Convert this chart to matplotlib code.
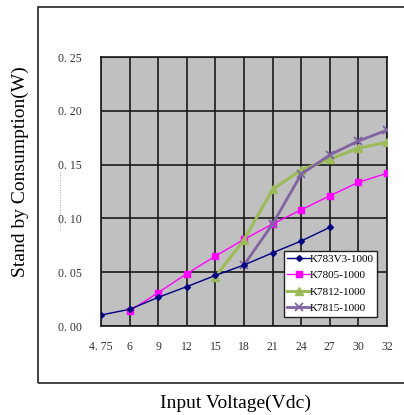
import numpy as np
import matplotlib.pyplot as plt
from matplotlib.patches import Rectangle

# categories on the x axis (evenly spaced)
voltages = ["4. 75", "6", "9", "12", "15", "18", "21", "24", "27", "30", "32"]

k783v3 = [0.0102, 0.0155, 0.0266, 0.0366, 0.047, 0.0567, 0.068, 0.079, 0.0917]
k7805 = [0.014, 0.031, 0.0486, 0.065, 0.0805, 0.0948, 0.108, 0.121, 0.1335, 0.142]
k7812 = [0.0458, 0.080, 0.127, 0.145, 0.155, 0.1654, 0.1707]
k7815 = [0.0567, 0.0948, 0.141, 0.159, 0.172, 0.182]

y_ticks = [0.0, 0.05, 0.10, 0.15, 0.20, 0.25]
y_labels = ["0. 00", "0. 05", "0. 10", "0. 15", "0. 20", "0. 25"]

W, H = 404, 415
fig = plt.figure(figsize=(W / 100, H / 100), dpi=100)
plt.rcParams["font.family"] = ["Liberation Serif", "DejaVu Serif"]

# outer chart frame (right edge runs off the picture)
fig.patches.append(Rectangle((38 / W, 1 - 383 / H), 1.0, (383 - 7) / H,
                             transform=fig.transFigure, fill=False,
                             edgecolor="#222222", linewidth=1.2))

ax = fig.add_axes([101 / W, 1 - 326 / H, (387 - 101) / W, (326 - 57) / H])
ax.set_facecolor("#c0c0c0")

n = len(voltages)
x = np.arange(n)

ax.plot(x[:len(k783v3)], k783v3, color="#000080", lw=1.0, marker="D", ms=3,
        label="K783V3-1000", zorder=4)
ax.plot(x[1:1 + len(k7805)], k7805, color="#ff00ff", lw=1.0, marker="s", ms=5,
        label="K7805-1000", zorder=3)
ax.plot(x[4:4 + len(k7812)], k7812, color="#9bbb59", lw=2.2, marker="^", ms=6,
        label="K7812-1000", zorder=3)
ax.plot(x[5:5 + len(k7815)], k7815, color="#8064a2", lw=2.0, marker="x", ms=6,
        mew=1.3, label="K7815-1000", zorder=3)

ax.set_xlim(0, n - 1)
ax.set_ylim(0, 0.25)
ax.set_xticks(x)
ax.set_xticklabels(voltages)
ax.set_yticks(y_ticks)
ax.set_yticklabels(y_labels)
ax.tick_params(length=0, labelsize=8.5, colors="#333333")
ax.tick_params(axis="x", pad=11)
ax.tick_params(axis="y", pad=14)
ax.grid(True, color="#1a1a1a", lw=1.2)
ax.set_axisbelow(True)
for s in ax.spines.values():
    s.set_color("#1a1a1a")
    s.set_linewidth(1.2)

leg = ax.legend(loc="lower right", bbox_to_anchor=(0.965, 0.035), fontsize=8,
                fancybox=False, framealpha=1, edgecolor="#222222",
                borderpad=0.3, labelspacing=0.6, handlelength=2.0,
                handletextpad=0.0, borderaxespad=0)
leg.get_frame().set_linewidth(1.0)

fig.text(20 / W, 1 - 172 / H, "Stand by Consumption(W)", rotation=90,
         ha="center", va="center", fontsize=14)
fig.text(236 / W, 1 - 403 / H, "Input Voltage(Vdc)", ha="center",
         va="center", fontsize=14)

# faint dotted mark left of the axis
fig.lines.append(plt.Line2D([60 / W, 60 / W], [1 - 172 / H, 1 - 230 / H],
                            transform=fig.transFigure, color="#888888",
                            lw=0.6, ls=(0, (1, 2))))

fig.savefig("out.png", dpi=100)
